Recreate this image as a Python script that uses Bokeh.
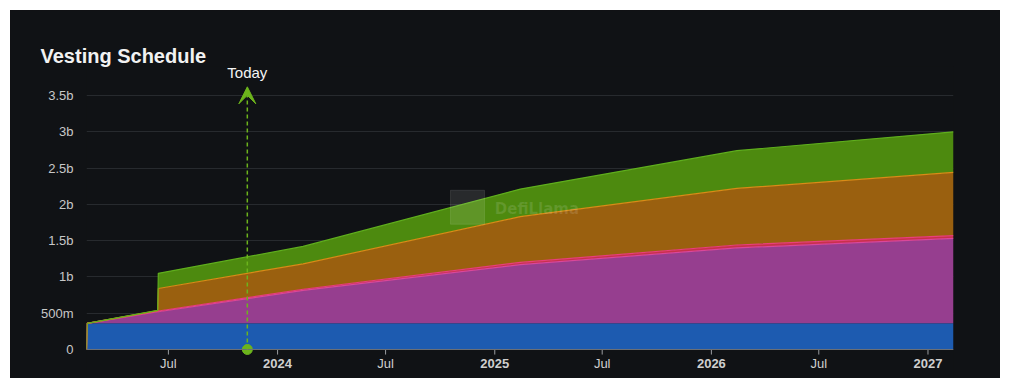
import numpy as np
import pandas as pd
from bokeh.plotting import figure
from bokeh.models import (Range1d, FixedTicker, ColumnDataSource, Label, Span,
                          Arrow, VeeHead)
from bokeh.embed import file_html
from bokeh.resources import INLINE
from bokeh.core.properties import value

# ---------------- data (billions of tokens, cumulative unlocked per category) ----
dates = ["2023-02-13", "2023-02-14", "2023-06-13", "2023-06-14",
         "2024-02-13", "2025-02-13", "2026-02-13", "2027-02-13"]
blue    = [0, 0.36, 0.36, 0.36, 0.36, 0.36, 0.36, 0.36]
magenta = [0, 0, 0.16, 0.16, 0.455, 0.81, 1.04, 1.17]
red     = [0, 0, 0.01, 0.01, 0.015, 0.03, 0.04, 0.04]
orange  = [0, 0, 0.005, 0.31, 0.35, 0.63, 0.78, 0.87]
green   = [0, 0, 0.005, 0.21, 0.24, 0.38, 0.52, 0.56]

today = "2023-11-11"

x_tick_dates = ["2023-07-01", "2024-01-01", "2024-07-01", "2025-01-01",
                "2025-07-01", "2026-01-01", "2026-07-01", "2027-01-01"]
x_tick_labels = ["Jul", "2024", "Jul", "2025", "Jul", "2026", "Jul", "2027"]
y_ticks = [0, 0.5, 1, 1.5, 2, 2.5, 3, 3.5]
y_tick_labels = ["0", "500m", "1b", "1.5b", "2b", "2.5b", "3b", "3.5b"]

# ---------------- styling ----------------
BG = "#101215"
names = ["blue", "magenta", "red", "orange", "green"]
fills = ["#1d5bb0", "#963e8f", "#c9304c", "#9a600f", "#4d8a0f"]
strokes = ["#1d5bb0", "#d9489a", "#e8407a", "#d98b17", "#5fae1d"]
GREEN = "#6cb41c"
FONT = "Liberation Sans"
AXIS = "#6e7176"


def ms(d):
    return pd.Timestamp(d).value // 10**6


x = [ms(d) for d in dates]
src = ColumnDataSource(dict(x=x, blue=blue, magenta=magenta, red=red,
                            orange=orange, green=green))

p = figure(width=990, height=368, output_backend="svg", toolbar_location=None,
           x_range=Range1d(ms(dates[0]), ms(dates[-1])),
           y_range=Range1d(-0.40, 3.9),
           min_border_left=76, min_border_right=47, min_border_top=56,
           min_border_bottom=0)
p.margin = (10, 12, 10, 10)
p.styles = {"background-color": BG}
p.background_fill_color = BG
p.border_fill_color = BG
p.outline_line_color = None

p.varea_stack(stackers=names, x="x", color=fills, source=src, fill_alpha=1.0)

cum = np.cumsum(np.array([blue, magenta, red, orange, green]), axis=0)
for i in range(1, 5):
    p.line(x, cum[i], line_color=strokes[i], line_width=1.2)

# ---------------- x axis (drawn inside the frame, at value 0) ----------------
p.xaxis.visible = False
p.xgrid.grid_line_color = None
tick_ms = [ms(d) for d in x_tick_dates]
p.add_layout(Span(location=0, dimension="width", line_color=AXIS, line_width=1))
p.segment(x0=tick_ms, y0=[0] * len(tick_ms), x1=tick_ms,
          y1=[-0.07] * len(tick_ms), line_color="#9a9da1", line_width=1)
xlab_src = ColumnDataSource(dict(
    x=tick_ms, y=[0] * len(tick_ms), text=x_tick_labels,
    style=["normal" if lab == "Jul" else "bold" for lab in x_tick_labels]))
p.text(x="x", y="y", text="text", source=xlab_src, y_offset=14,
       text_align="center", text_baseline="middle", text_font=value(FONT),
       text_font_style="style", text_font_size="13px", text_color="#cfcfcf")

# ---------------- y axis ----------------
p.yaxis.ticker = FixedTicker(ticks=y_ticks)
p.yaxis.major_label_overrides = {t: lab for t, lab in zip(y_ticks, y_tick_labels)}
p.yaxis.axis_line_color = None
p.yaxis.major_tick_line_color = None
p.yaxis.minor_tick_line_color = None
p.yaxis.major_label_text_color = "#c8c8c8"
p.yaxis.major_label_text_font = FONT
p.yaxis.major_label_text_font_size = "13px"
p.yaxis.major_label_standoff = 7

p.ygrid.grid_line_color = "#272a2e"
p.ygrid.grid_line_width = 1

# ---------------- title ----------------
p.title.text = "Vesting Schedule"
p.title.text_font = FONT
p.title.text_font_size = "20px"
p.title.text_font_style = "bold"
p.title.text_color = "#f2f2f2"
p.title.align = "left"
p.title.offset = -46
p.title.standoff = 0

# ---------------- today marker ----------------
p.add_layout(Arrow(x_start=ms(today), y_start=0, x_end=ms(today), y_end=3.62,
                   line_color=GREEN, line_width=1.5, line_dash="4 3",
                   end=VeeHead(size=17, fill_color=GREEN, line_color=GREEN)))
p.scatter([ms(today)], [0], size=10, color=GREEN)
p.add_layout(Label(x=ms(today), y=3.815, text="Today", text_align="center",
                   text_baseline="middle", text_font=FONT,
                   text_font_size="15px", text_color="#f4f4f4"))

# ---------------- watermark ----------------
p.add_layout(Label(x=ms("2025-01-01"), y=1.93, text="DefiLlama",
                   text_baseline="middle", text_font="DejaVu Sans",
                   text_font_style="bold", text_font_size="15px",
                   text_color="#ffffff", text_alpha=0.12))
p.scatter([ms("2024-11-16")], [1.96], marker="square", size=34,
          color="#ffffff", alpha=0.10)

open("out.html", "w").write(file_html(p, INLINE))
